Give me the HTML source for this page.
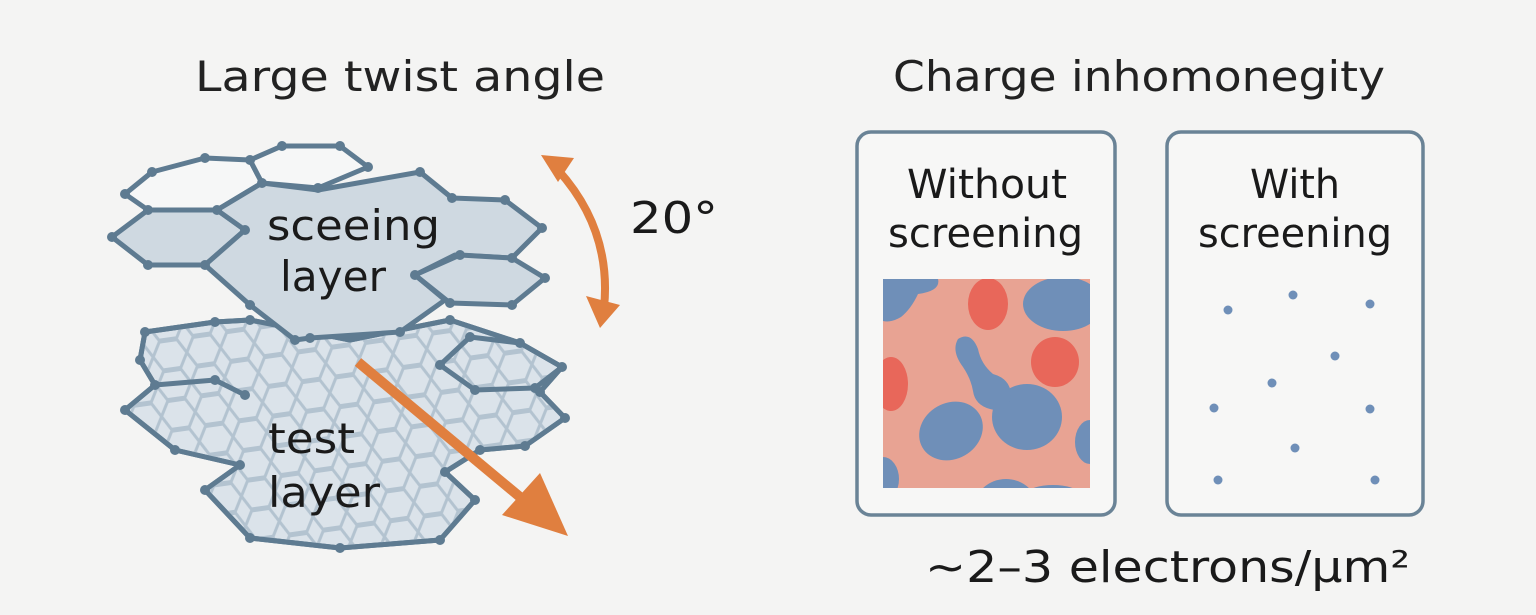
<!DOCTYPE html>
<html><head><meta charset="utf-8"><style>
html,body{margin:0;padding:0;background:#f4f4f3;}
svg{display:block;font-family:"DejaVu Sans","Liberation Sans",sans-serif;}
</style></head><body>
<svg width="1536" height="615" viewBox="0 0 1536 615">
<defs>
<pattern id="mesh" width="34" height="30" patternUnits="userSpaceOnUse" patternTransform="rotate(-8)">
<path d="M0 15 L8 1 L26 1 L34 15 L26 29 L8 29 Z" fill="none" stroke="#b3c3d0" stroke-width="3"/>
</pattern>
</defs>
<rect width="1536" height="615" fill="#f4f4f3"/>
<text x="195" y="91" font-size="42" textLength="410" lengthAdjust="spacingAndGlyphs" fill="#222">Large twist angle</text>
<text x="893" y="91" font-size="42" textLength="492" lengthAdjust="spacingAndGlyphs" fill="#222">Charge inhomonegity</text>

<!-- test layer -->
<g stroke="#5e7b91" stroke-width="5" stroke-linejoin="round">
<polygon points="145,332 215,322 250,320 300,330 350,340 450,320 520,343 562,367 540,392 565,418 525,446 480,450 445,472 475,500 440,540 340,548 250,538 205,490 240,465 175,450 125,410 155,385 140,360" fill="#dbe3ea"/>
<polygon points="145,332 215,322 250,320 300,330 350,340 450,320 520,343 562,367 540,392 565,418 525,446 480,450 445,472 475,500 440,540 340,548 250,538 205,490 240,465 175,450 125,410 155,385 140,360" fill="url(#mesh)"/>
<polygon points="440,365 470,337 520,343 562,367 535,388 475,390" fill="none"/>
<polyline points="155,385 215,380 245,395" fill="none"/>
</g>
<!-- top layer -->
<g stroke="#5e7b91" stroke-width="5" stroke-linejoin="round">
<polygon points="125,194 152,172 205,158 250,160 262,183 217,210 148,210" fill="#f6f7f7"/>
<polygon points="250,160 282,146 340,146 368,167 318,188 262,183" fill="#f6f7f7"/>
<polygon points="148,210 217,210 245,230 205,265 148,265 112,237" fill="#cfd9e1"/>
<polygon points="217,210 262,183 318,190 420,172 452,198 505,200 542,228 512,258 455,255 415,275 445,300 400,332 310,338 295,340 250,305 205,265 245,230" fill="#cfd9e1"/>
<polygon points="415,275 460,255 512,258 545,278 512,305 450,303" fill="#cfd9e1"/>
</g>
<g fill="#5e7b91">
<circle cx="125" cy="194" r="5"/><circle cx="152" cy="172" r="5"/><circle cx="205" cy="158" r="5"/><circle cx="250" cy="160" r="5"/><circle cx="262" cy="183" r="5"/><circle cx="282" cy="146" r="5"/><circle cx="340" cy="146" r="5"/><circle cx="368" cy="167" r="5"/><circle cx="318" cy="188" r="5"/><circle cx="217" cy="210" r="5"/><circle cx="148" cy="210" r="5"/><circle cx="112" cy="237" r="5"/><circle cx="148" cy="265" r="5"/><circle cx="205" cy="265" r="5"/><circle cx="245" cy="230" r="5"/><circle cx="420" cy="172" r="5"/><circle cx="452" cy="198" r="5"/><circle cx="505" cy="200" r="5"/><circle cx="542" cy="228" r="5"/><circle cx="512" cy="258" r="5"/><circle cx="460" cy="255" r="5"/><circle cx="415" cy="275" r="5"/><circle cx="545" cy="278" r="5"/><circle cx="512" cy="305" r="5"/><circle cx="450" cy="303" r="5"/><circle cx="400" cy="332" r="5"/><circle cx="310" cy="338" r="5"/><circle cx="295" cy="340" r="5"/><circle cx="250" cy="305" r="5"/>
<circle cx="145" cy="332" r="5"/><circle cx="215" cy="322" r="5"/><circle cx="250" cy="320" r="5"/><circle cx="450" cy="320" r="5"/><circle cx="520" cy="343" r="5"/><circle cx="562" cy="367" r="5"/><circle cx="540" cy="392" r="5"/><circle cx="565" cy="418" r="5"/><circle cx="525" cy="446" r="5"/><circle cx="480" cy="450" r="5"/><circle cx="445" cy="472" r="5"/><circle cx="475" cy="500" r="5"/><circle cx="440" cy="540" r="5"/><circle cx="340" cy="548" r="5"/><circle cx="250" cy="538" r="5"/><circle cx="205" cy="490" r="5"/><circle cx="240" cy="465" r="5"/><circle cx="175" cy="450" r="5"/><circle cx="125" cy="410" r="5"/><circle cx="155" cy="385" r="5"/><circle cx="140" cy="360" r="5"/><circle cx="215" cy="380" r="5"/><circle cx="245" cy="395" r="5"/><circle cx="440" cy="365" r="5"/><circle cx="470" cy="337" r="5"/><circle cx="535" cy="388" r="5"/><circle cx="475" cy="390" r="5"/>
</g>
<text x="267" y="240" font-size="42" textLength="173" lengthAdjust="spacingAndGlyphs" fill="#1a1a1a">sceeing</text>
<text x="280" y="291" font-size="42" textLength="106" lengthAdjust="spacingAndGlyphs" fill="#1a1a1a">layer</text>
<text x="268" y="453" font-size="42" textLength="87" lengthAdjust="spacingAndGlyphs" fill="#1a1a1a">test</text>
<text x="268" y="507" font-size="42" textLength="112" lengthAdjust="spacingAndGlyphs" fill="#1a1a1a">layer</text>

<!-- arrows -->
<g fill="#e07f3f" stroke="none">
<path d="M558 170 Q612 230 604 308" fill="none" stroke="#e07f3f" stroke-width="8"/>
<polygon points="541,155 574,158 558,182"/>
<polygon points="600,328 586,296 620,305"/>
<line x1="358" y1="362" x2="520" y2="497" stroke="#e07f3f" stroke-width="10"/>
<polygon points="568,536 502,515 540,473"/>
</g>
<text x="630" y="233" font-size="44" textLength="88" lengthAdjust="spacingAndGlyphs" fill="#1a1a1a">20°</text>

<!-- boxes -->
<rect x="857" y="132" width="258" height="383" rx="14" fill="#f7f7f6" stroke="#6a8396" stroke-width="3.5"/>
<rect x="1167" y="132" width="256" height="383" rx="14" fill="#f7f7f6" stroke="#6a8396" stroke-width="3.5"/>
<text x="907" y="198" font-size="40" textLength="160" lengthAdjust="spacingAndGlyphs" fill="#1a1a1a">Without</text>
<text x="888" y="247" font-size="40" textLength="195" lengthAdjust="spacingAndGlyphs" fill="#1a1a1a">screening</text>
<text x="1250" y="198" font-size="40" textLength="90" lengthAdjust="spacingAndGlyphs" fill="#1a1a1a">With</text>
<text x="1198" y="247" font-size="40" textLength="194" lengthAdjust="spacingAndGlyphs" fill="#1a1a1a">screening</text>

<svg x="883" y="279" width="207" height="209" viewBox="0 0 207 209">
<rect width="207" height="209" fill="#e8a393"/>
<g fill="#6f8fb8">
<path d="M0 0 L55 0 Q58 12 35 15 Q28 30 18 38 Q8 44 0 42 Z"/>
<ellipse cx="180" cy="25" rx="40" ry="27"/>
<ellipse cx="144" cy="138" rx="35" ry="33"/>
<ellipse cx="68" cy="152" rx="33" ry="28" transform="rotate(-30 68 152)"/>
<ellipse cx="207" cy="163" rx="15" ry="22"/>
<ellipse cx="0" cy="200" rx="16" ry="22"/>
<ellipse cx="123" cy="230" rx="32" ry="30"/>
<ellipse cx="170" cy="214" rx="25" ry="8"/>
<path d="M75 60 Q88 52 95 70 Q98 85 110 95 Q128 100 128 117 Q124 135 107 130 Q92 126 90 112 Q88 100 80 88 Q68 72 75 60 Z"/>
</g>
<g fill="#e8675a">
<ellipse cx="105" cy="25" rx="20" ry="26"/>
<ellipse cx="172" cy="83" rx="24" ry="25"/>
<ellipse cx="8" cy="105" rx="17" ry="27"/>
</g>
</svg>

<g fill="#6f8fb8">
<circle cx="1228" cy="310" r="4.5"/><circle cx="1293" cy="295" r="4.5"/><circle cx="1370" cy="304" r="4.5"/><circle cx="1335" cy="356" r="4.5"/><circle cx="1272" cy="383" r="4.5"/><circle cx="1214" cy="408" r="4.5"/><circle cx="1370" cy="409" r="4.5"/><circle cx="1295" cy="448" r="4.5"/><circle cx="1218" cy="480" r="4.5"/><circle cx="1375" cy="480" r="4.5"/>
</g>
<text x="925" y="582" font-size="44" textLength="485" lengthAdjust="spacingAndGlyphs" fill="#1a1a1a">~2–3 electrons/μm²</text>
</svg>
</body></html>
